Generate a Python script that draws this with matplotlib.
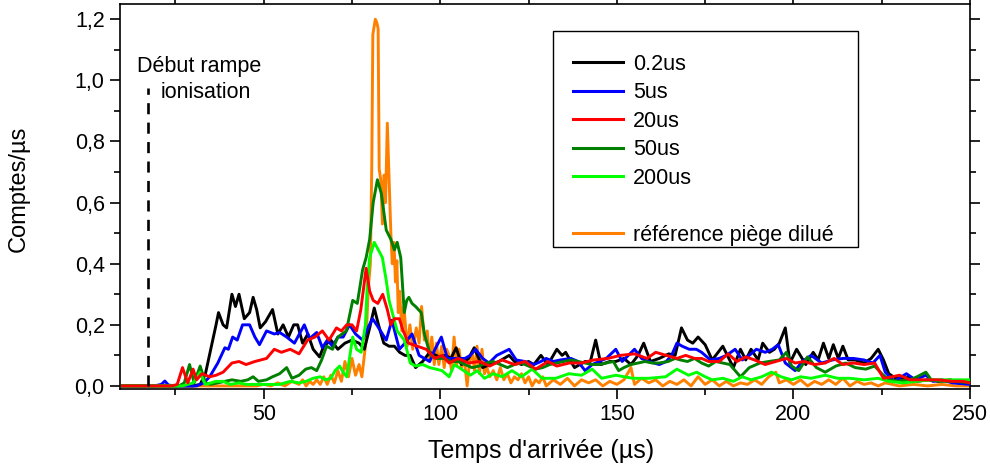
import matplotlib
matplotlib.use("Agg")
import matplotlib.pyplot as plt
from matplotlib.lines import Line2D
from matplotlib.patches import Rectangle
from matplotlib.ticker import FuncFormatter, MultipleLocator
import numpy as np

plt.rcParams["font.family"] = ["Liberation Sans", "DejaVu Sans"]
plt.rcParams["lines.scale_dashes"] = False

# (time in us, counts/us)
BLACK = [(10, 0), (20, 0), (30, 0), (32, 0.005), (33.5, 0.04), (35, 0.12), (36.5, 0.2), (37.2, 0.24),
         (38.5, 0.2), (39.5, 0.19), (41, 0.3), (42, 0.26), (43, 0.3), (44.5, 0.22), (46, 0.24), (47, 0.29),
         (48, 0.25), (49, 0.19), (50.5, 0.21), (52.5, 0.25), (54, 0.17), (55.5, 0.2), (57, 0.16), (58.5, 0.2),
         (59.6, 0.2), (61, 0.14), (62.5, 0.17), (64, 0.12), (65.8, 0.095), (67, 0.13), (69, 0.15), (71, 0.12),
         (73, 0.14), (75, 0.15), (77, 0.14), (78.5, 0.12), (80, 0.19), (81.3, 0.255), (82.5, 0.2), (84, 0.14),
         (85.5, 0.13), (87, 0.13), (88.5, 0.11), (90, 0.1), (91.5, 0.1), (93, 0.06), (95, 0.08), (97, 0.11),
         (99.7, 0.095), (101.5, 0.1), (103, 0.09), (104.5, 0.125), (106, 0.07), (108, 0.09), (109.6, 0.125),
         (112, 0.06), (114, 0.07), (116.6, 0.08), (119.5, 0.1), (121, 0.08), (123, 0.07), (125, 0.08),
         (126.5, 0.07), (128.5, 0.1), (130.5, 0.07), (133, 0.12), (134.5, 0.1), (135.5, 0.11), (138, 0.06),
         (141, 0.08), (142.5, 0.08), (144, 0.15), (145.5, 0.07), (148, 0.08), (149.7, 0.08), (152, 0.09),
         (154, 0.07), (156, 0.1), (157.6, 0.14), (159.5, 0.08), (162, 0.09), (164.7, 0.105), (166.5, 0.1),
         (168.3, 0.19), (170, 0.15), (171.5, 0.14), (173, 0.16), (175, 0.135), (177, 0.085), (180, 0.13),
         (183, 0.06), (185, 0.12), (186.5, 0.085), (188, 0.12), (190, 0.085), (191.3, 0.14), (193.2, 0.11),
         (194.6, 0.12), (196, 0.14), (197.7, 0.19), (199, 0.075), (200.9, 0.12), (203.5, 0.07), (205.6, 0.11),
         (207, 0.085), (208.5, 0.14), (210, 0.09), (211.3, 0.135), (212.7, 0.09), (214, 0.13), (215.5, 0.085),
         (217.5, 0.085), (220, 0.075), (222, 0.09), (224, 0.12), (225.5, 0.085), (227, 0.04), (229, 0.025),
         (231.5, 0.025), (233, 0.03), (235, 0.015), (238, 0.02), (241, 0.015), (244.5, 0.02), (246.5, 0.01),
         (250, 0.01)]

BLUE = [(10, 0), (19, 0), (21, 0.005), (22, 0.016), (23, 0.003), (25, 0), (31, 0), (33, 0.01), (34.7, 0.03),
        (37, 0.075), (39, 0.125), (40, 0.12), (41.2, 0.16), (42.5, 0.15), (44, 0.2), (46, 0.2), (47.5, 0.16),
        (48.8, 0.135), (50.8, 0.18), (53, 0.17), (54.5, 0.175), (56.5, 0.16), (58.7, 0.14), (61.5, 0.2),
        (63, 0.155), (65, 0.175), (66.6, 0.125), (68, 0.15), (69.5, 0.13), (71, 0.16), (72.5, 0.16),
        (74.3, 0.2), (76, 0.17), (78, 0.15), (79.5, 0.19), (80.8, 0.22), (82, 0.2), (84.7, 0.15),
        (86.3, 0.215), (88.4, 0.12), (90, 0.14), (92, 0.17), (94, 0.1), (97, 0.08), (98.5, 0.12),
        (100.3, 0.16), (102, 0.09), (104, 0.09), (107, 0.09), (108.5, 0.1), (110, 0.12), (112, 0.09),
        (113.8, 0.075), (116, 0.1), (119.5, 0.12), (121.5, 0.085), (124, 0.08), (126.5, 0.07), (128.5, 0.08),
        (130, 0.09), (132, 0.08), (134, 0.085), (137, 0.09), (139, 0.08), (141, 0.05), (143, 0.07),
        (145, 0.08), (147, 0.09), (149.7, 0.12), (151.5, 0.08), (155, 0.12), (157, 0.09), (159, 0.08),
        (162, 0.07), (164, 0.08), (165.5, 0.1), (167, 0.14), (168.5, 0.13), (170.5, 0.12), (172.5, 0.12),
        (174, 0.11), (176.5, 0.085), (179, 0.09), (181, 0.1), (183.5, 0.12), (185.5, 0.085), (187.5, 0.1),
        (189.5, 0.12), (192, 0.11), (194, 0.12), (195.7, 0.135), (197.7, 0.075), (200.5, 0.05),
        (202.5, 0.08), (205, 0.1), (208, 0.075), (211, 0.085), (214, 0.09), (217, 0.09), (220, 0.085),
        (222.5, 0.075), (224.5, 0.1), (226, 0.045), (228.5, 0.015), (232, 0.04), (234.5, 0.02),
        (237.5, 0.035), (239.5, 0.015), (242, 0.02), (245, 0.01), (250, 0.005)]

RED = [(10, 0), (24, 0), (25.5, 0.005), (27, 0.06), (28.5, 0.01), (30, 0.055), (31, 0.02), (32.5, 0.04),
       (34.7, 0.03), (36.5, 0.035), (38.5, 0.045), (41, 0.075), (43, 0.08), (45, 0.07), (47.5, 0.08),
       (50.8, 0.09), (53, 0.12), (55, 0.11), (57.5, 0.12), (60, 0.105), (62.4, 0.15), (64.5, 0.16),
       (66.6, 0.18), (68.5, 0.15), (70.6, 0.19), (72, 0.18), (73.5, 0.2), (75, 0.2), (76.3, 0.18),
       (77.5, 0.25), (79, 0.385), (80, 0.31), (81, 0.28), (82.3, 0.27), (83.7, 0.3), (85, 0.25), (86, 0.2),
       (87, 0.22), (88.4, 0.22), (89.5, 0.18), (91, 0.14), (93.5, 0.13), (96, 0.12), (98.5, 0.09),
       (100.5, 0.1), (102.5, 0.075), (105, 0.09), (108, 0.075), (111, 0.08), (114, 0.065), (117.5, 0.085),
       (121, 0.07), (124, 0.08), (127, 0.055), (130.5, 0.08), (133, 0.065), (136.5, 0.075), (140, 0.075),
       (143.5, 0.085), (147.5, 0.09), (151, 0.1), (155, 0.105), (158.5, 0.09), (161, 0.11), (164, 0.1),
       (167, 0.09), (169.5, 0.1), (172, 0.09), (174, 0.09), (176, 0.08), (179, 0.08), (181.5, 0.105),
       (184, 0.08), (186.5, 0.095), (189, 0.085), (192, 0.07), (195, 0.08), (198, 0.09), (200.5, 0.075),
       (203, 0.08), (206, 0.07), (209, 0.075), (211.5, 0.09), (214, 0.07), (217, 0.075), (220, 0.07),
       (223, 0.075), (225.5, 0.025), (228, 0.03), (230, 0.035), (233, 0.02), (237, 0.02), (241, 0.02),
       (245, 0.015), (248, 0.015), (250, 0.01)]

GREEN = [(10, 0), (26, 0), (27.5, 0.01), (29, 0.07), (30.3, 0.01), (32, 0.065), (33.5, 0.01), (35, 0.005),
         (37, 0.01), (39, 0.015), (41, 0.02), (43.5, 0.015), (45.5, 0.02), (47, 0.03), (48.5, 0.015),
         (50.8, 0.02), (52.5, 0.03), (54.5, 0.04), (56.5, 0.06), (58, 0.025), (60, 0.035), (61.9, 0.055),
         (63.5, 0.06), (65, 0.05), (66.4, 0.085), (67.8, 0.13), (69.5, 0.12), (71, 0.16), (73.4, 0.18),
         (75.2, 0.28), (76.5, 0.27), (78, 0.38), (79, 0.42), (80, 0.48), (81, 0.6), (82.2, 0.675),
         (83.3, 0.63), (84.7, 0.51), (86, 0.48), (87, 0.445), (87.8, 0.47), (88.8, 0.42), (89.8, 0.24),
         (90.5, 0.28), (91.1, 0.29), (92, 0.27), (93, 0.26), (94.6, 0.24), (95.5, 0.17), (97.2, 0.1),
         (99, 0.09), (101, 0.09), (103, 0.08), (105, 0.08), (107, 0.07), (109, 0.06), (111, 0.065),
         (113, 0.075), (115, 0.08), (117, 0.07), (119, 0.06), (121, 0.07), (123, 0.075), (125, 0.065),
         (127, 0.055), (129, 0.06), (131, 0.07), (133, 0.075), (135, 0.08), (137, 0.085), (139, 0.08),
         (141, 0.075), (143, 0.07), (145, 0.07), (147, 0.075), (149, 0.08), (150.5, 0.05), (152, 0.06),
         (154, 0.07), (156, 0.075), (158, 0.08), (160, 0.075), (162, 0.075), (164.5, 0.08), (166.5, 0.09),
         (168, 0.085), (170, 0.08), (172, 0.09), (174, 0.075), (176, 0.065), (178, 0.08), (180, 0.075),
         (182, 0.07), (185, 0.03), (187.5, 0.06), (190.5, 0.075), (193, 0.08), (196, 0.085), (198, 0.11),
         (199.5, 0.065), (201.5, 0.05), (204, 0.095), (206.5, 0.06), (209, 0.045), (212, 0.065),
         (214.8, 0.075), (217.5, 0.06), (220.5, 0.055), (223, 0.065), (225, 0.04), (227, 0.02),
         (230, 0.015), (233, 0.02), (235, 0.03), (237.5, 0.045), (239, 0.02), (242, 0.015), (246, 0.015),
         (250, 0.01)]

LIME = [(10, 0), (27, 0), (28.5, 0.005), (30, 0.01), (31, 0.025), (32, 0.045), (32.8, 0.02), (33.5, 0.005),
        (35, 0.01), (36.5, 0.015), (38.5, 0.015), (40.5, 0.005), (43, 0.01), (45, 0.005), (48, 0.005),
        (51, 0.005), (54.5, 0.005), (57.5, 0.015), (60, 0.01), (62, 0.015), (64, 0.025), (66, 0.03),
        (67.5, 0.02), (69, 0.025), (70.2, 0.05), (71.5, 0.065), (72.5, 0.045), (73.5, 0.03), (75.2, 0.16),
        (76.3, 0.12), (77.6, 0.11), (78.8, 0.2), (79.3, 0.325), (80, 0.42), (81.3, 0.47), (82.7, 0.44),
        (83.6, 0.42), (84.7, 0.345), (85.5, 0.28), (86.4, 0.24), (87.8, 0.18), (89.8, 0.15), (91.5, 0.075),
        (93, 0.065), (95, 0.07), (97, 0.06), (98.8, 0.055), (100.5, 0.05), (102.5, 0.03), (104, 0.07),
        (106, 0.055), (108.5, 0.035), (110.5, 0.05), (112.5, 0.025), (115, 0.04), (117.5, 0.03),
        (120.3, 0.05), (123, 0.03), (126, 0.055), (128.8, 0.025), (132.7, 0.025), (136.4, 0.04),
        (140, 0.035), (143, 0.055), (145.7, 0.025), (149.7, 0.035), (154.5, 0.025), (159, 0.025),
        (163.8, 0.03), (167, 0.055), (170.3, 0.035), (172.6, 0.045), (175, 0.03), (177, 0.02), (180, 0.025),
        (183, 0.015), (185.5, 0.03), (188, 0.02), (191, 0.03), (193.8, 0.045), (196.5, 0.03), (199.5, 0.02),
        (202, 0.03), (205, 0.025), (209, 0.035), (212.5, 0.025), (216, 0.025), (220, 0.02), (224, 0.025),
        (227, 0.015), (231, 0.01), (235, 0.015), (239, 0.02), (243, 0.02), (247, 0.02), (250, 0.02)]

ORANGE = [(10, 0), (48, 0), (50, 0.005), (52, 0), (54, 0.01), (56, 0), (58, 0.015), (60, 0.005), (61, 0.02),
          (62, 0), (63, 0.015), (64, 0.005), (65, 0.02), (66, 0.005), (67, 0.03), (68, 0.005), (69, 0.035),
          (70, 0.01), (71, 0.05), (72, 0.015), (73, 0.08), (74, 0.03), (75, 0.09), (76, 0.035), (77, 0.07),
          (77.8, 0.03), (78.5, 0.1), (79, 0.15), (79.6, 0.32), (80.2, 0.4), (80.6, 0.72), (80.9, 1.15),
          (81.6, 1.2), (82.0, 1.19), (82.4, 1.17), (82.7, 0.71), (83.2, 0.67), (83.6, 0.53), (84.1, 0.69),
          (84.5, 0.6), (85.0, 0.86), (85.5, 0.68), (86.0, 0.5), (86.4, 0.4), (86.9, 0.47), (87.3, 0.34),
          (87.7, 0.41), (88.1, 0.24), (88.5, 0.31), (89.1, 0.18), (89.7, 0.26), (90.6, 0.13), (91.4, 0.2),
          (92.2, 0.12), (93.2, 0.19), (94.0, 0.14), (94.7, 0.26), (95.5, 0.15), (96.3, 0.18), (96.9, 0.08),
          (97.6, 0.16), (98.3, 0.07), (98.9, 0.14), (99.6, 0.07), (100.4, 0.13), (101.1, 0.06), (101.8, 0.12),
          (102.5, 0.1), (103.2, 0.05), (103.9, 0.16), (104.6, 0.07), (105.3, 0.12), (106.0, 0.06),
          (106.8, 0.09), (107.6, 0.0), (108.3, 0.08), (109.0, 0.11), (109.7, 0.05), (110.4, 0.13),
          (111.1, 0.04), (111.8, 0.12), (112.5, 0.04), (113.2, 0.06), (114, 0.03), (115, 0.05), (116, 0.02),
          (117, 0.06), (118, 0.02), (119, 0.04), (120, 0.01), (121, 0.03), (122, 0.02), (123, 0.04),
          (124, 0.01), (125, 0.03), (126, 0.0), (127, 0.02), (128, 0.01), (129, 0.03), (130, 0.0), (132, 0.02),
          (134, 0.005), (136, 0.025), (138, 0.0), (140, 0.02), (142, 0.01), (144, 0.02), (146, 0.0),
          (148, 0.015), (150, 0.005), (152, 0.02), (154, 0.06), (155, 0.005), (157, 0.025), (159, 0.01),
          (161, 0.02), (163, 0.0), (165, 0.015), (167, 0.005), (169, 0.02), (171, 0.0), (173, 0.03),
          (175, 0.005), (177, 0.02), (179, 0.0), (181, 0.015), (183, 0.0), (185, 0.01), (187, 0.005),
          (189, 0.02), (191, 0.005), (193, 0.03), (195, 0.045), (196, 0.01), (198, 0.02), (200, 0.005),
          (202, 0.02), (204, 0.0), (206, 0.015), (208, 0.005), (210, 0.02), (212, 0.005), (214, 0.025),
          (216, 0.0), (218, 0.015), (220, 0.005), (222, 0.01), (224, 0.0), (226, 0.01), (228, 0.005),
          (230, 0.0), (234, 0.005), (238, 0.0), (242, 0.005), (246, 0.0), (250, 0.0)]

SERIES = [
    ("0.2us", BLACK, "#000000", 2),
    ("5us", BLUE, "#0000ff", 3),
    ("20us", RED, "#ff0000", 6),
    ("50us", GREEN, "#008000", 4),
    ("200us", LIME, "#00ff00", 5),
    (None, None, None, None),  # blank line in the legend
    ("référence piège dilué", ORANGE, "#ff8000", 1),
]

RAMP_START = 17.2  # us, start of the ionisation ramp


def comma(v, _pos):
    return f"{v:.1f}".replace(".", ",")


def main():
    fig = plt.figure(figsize=(9.9, 4.76), dpi=100)
    ax = fig.add_axes([0.1212, 0.1828, 0.8586, 0.8088])

    handles = []
    for label, data, color, z in SERIES:
        if data is None:
            handles.append(Line2D([], [], color="none", label=" "))
            continue
        t, v = np.array(data).T
        line, = ax.plot(t, v, color=color, lw=2.1, zorder=z, label=label,
                        solid_joinstyle="round")
        handles.append(line)

    ax.plot([RAMP_START, RAMP_START], [0, 0.975], color="black", lw=1.9,
            dashes=(8, 6), zorder=7)
    ax.text(14.1, 1.027, "Début rampe", fontsize=15.5, va="baseline", ha="left")
    ax.text(20.9, 0.942, "ionisation", fontsize=15.5, va="baseline", ha="left")

    ax.set_xlim(9.3, 250)
    ax.set_ylim(-0.01, 1.25)
    ax.xaxis.set_major_locator(MultipleLocator(50))
    ax.xaxis.set_minor_locator(MultipleLocator(25))
    ax.yaxis.set_major_locator(MultipleLocator(0.2))
    ax.yaxis.set_minor_locator(MultipleLocator(0.1))
    ax.yaxis.set_major_formatter(FuncFormatter(comma))
    ax.tick_params(which="both", direction="out", top=True, right=True,
                   labelsize=15.5, width=1.2)
    ax.tick_params(which="major", length=7, pad=4)
    ax.tick_params(which="minor", length=4)
    for sp in ax.spines.values():
        sp.set_linewidth(1.2)

    ax.set_xlabel("Temps d'arrivée (µs)", fontsize=18)
    ax.set_ylabel("Comptes/µs", fontsize=17)
    ax.xaxis.set_label_coords(0.495, -0.13)
    ax.yaxis.set_label_coords(-0.106, 0.52)

    # legend box drawn separately so the padding can match the original
    ax.add_patch(Rectangle((553 / 990, 1 - 247 / 476), 305 / 990, 216 / 476,
                           transform=fig.transFigure, facecolor="white",
                           edgecolor="black", lw=1.0, zorder=8, clip_on=False))
    leg = ax.legend(handles=handles, loc="upper left",
                    bbox_to_anchor=(573 / 990, 1 - 54 / 476),
                    bbox_transform=fig.transFigure, fontsize=15.5,
                    frameon=False, borderpad=0, labelspacing=0.345,
                    handlelength=2.3, handletextpad=0.5, borderaxespad=0)
    leg.set_zorder(9)
    for h in leg.get_lines():
        h.set_linewidth(2.2)

    fig.savefig("out.png", dpi=100)


if __name__ == "__main__":
    main()
